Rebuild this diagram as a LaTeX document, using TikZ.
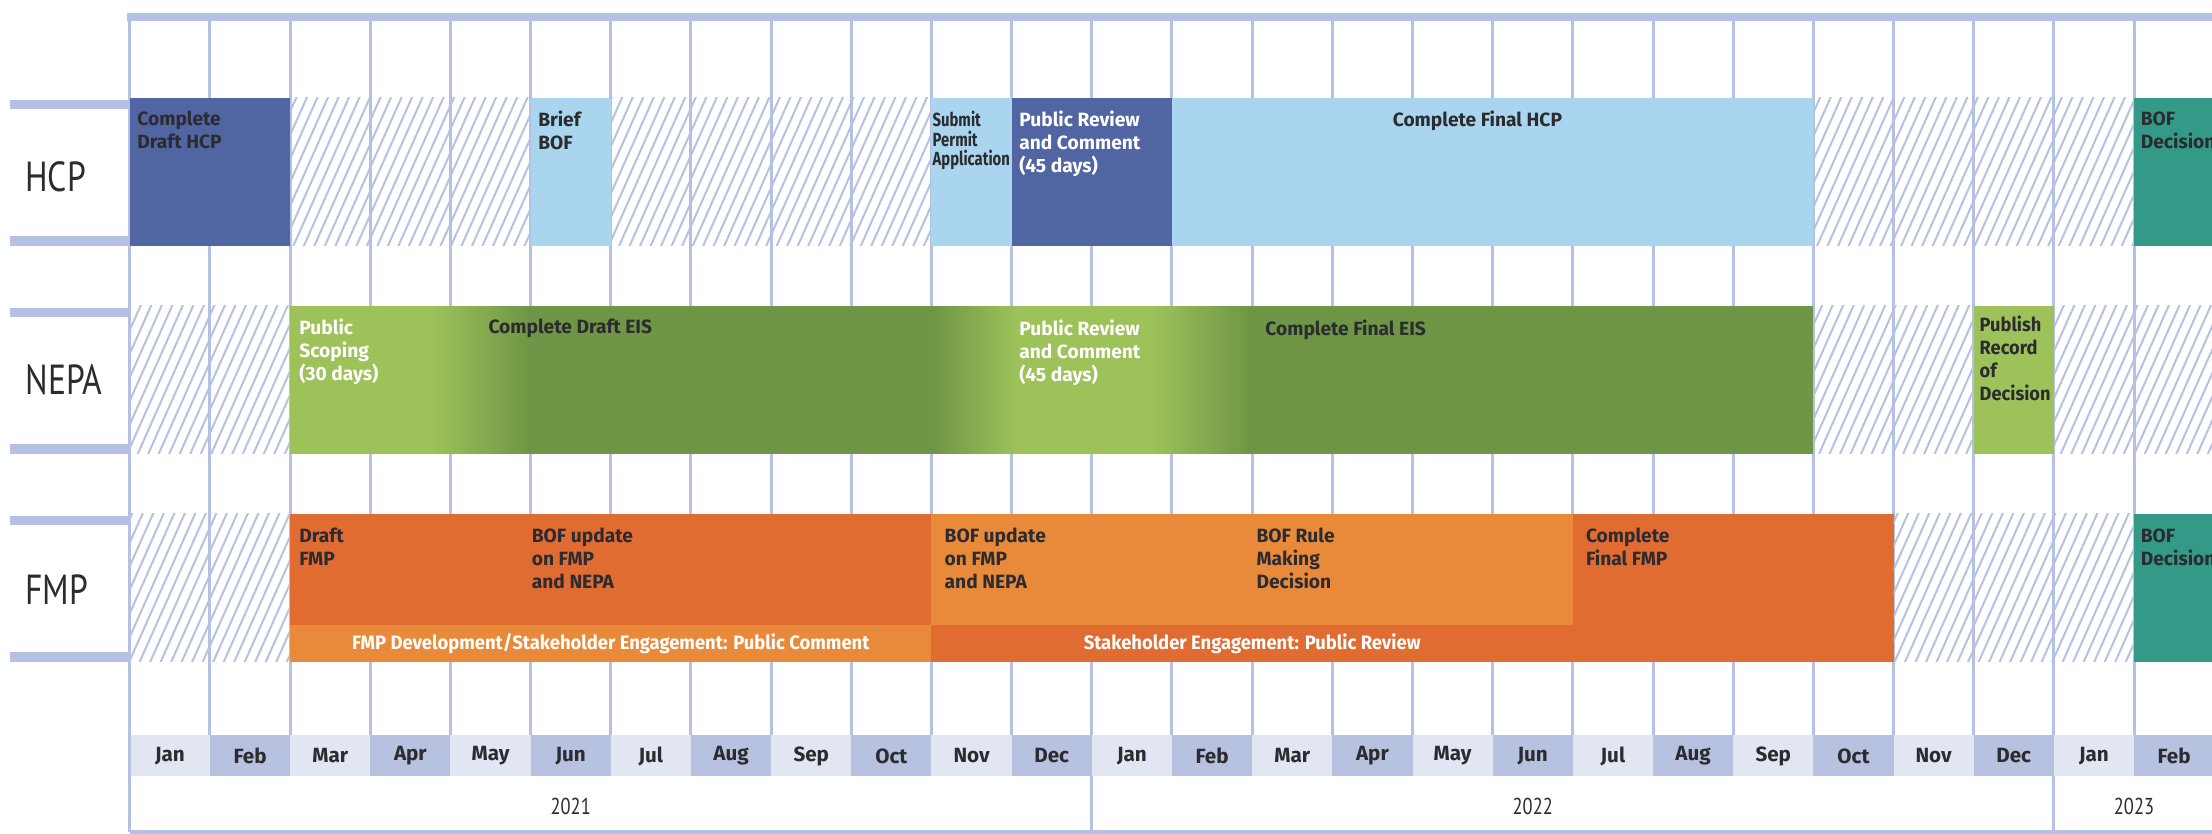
\documentclass[tikz,border=0pt]{standalone}
\usepackage{fontspec}
\setmainfont{PT Sans}
\newfontfamily\lblfont{Fira Sans}
\newfontfamily\bandfont{Fira Sans}[FakeStretch=0.95]
\newfontfamily\narrowfont{Fira Sans}[FakeStretch=0.78]
\newfontfamily\rowfont{PT Sans}[FakeStretch=0.8]
\usetikzlibrary{patterns.meta}

\definecolor{gridc}{HTML}{B5C1E3}
\definecolor{monlight}{HTML}{E2E5F2}
\definecolor{mondark}{HTML}{B7C2E1}
\definecolor{txtdark}{HTML}{2B2B30}
\definecolor{hcpdark}{HTML}{5265A3}
\definecolor{hcplight}{HTML}{A9D6EE}
\definecolor{bofteal}{HTML}{349A88}
\definecolor{greenlight}{HTML}{9EC25A}
\definecolor{greendark}{HTML}{6F9646}
\definecolor{orangedark}{HTML}{E06C32}
\definecolor{orangelight}{HTML}{E88A3A}

\begin{document}
\begin{tikzpicture}[x=40.085pt,y=-0.5pt,
  gridline/.style={draw=gridc,line width=1.5pt},
  hatch/.style={pattern={Lines[angle=66,distance=4.8pt,line width=1pt]},pattern color=gridc},
  bartxt/.style={anchor=north west,inner sep=0pt,align=left,text=txtdark,
    font=\lblfont\bfseries\fontsize{9.6}{11.5}\selectfont},
  wtxt/.style={bartxt,text=white},
  bandtxt/.style={inner sep=0pt,text=white,font=\bandfont\bfseries\fontsize{9.7}{11.5}\selectfont},
  rowlbl/.style={anchor=west,inner sep=0pt,text=txtdark,font=\rowfont\fontsize{21}{21}\selectfont},
  monlbl/.style={inner sep=0pt,text=txtdark,font=\lblfont\bfseries\fontsize{10.3}{10}\selectfont},
  yrlbl/.style={inner sep=0pt,text=txtdark,font=\rowfont\fontsize{11.5}{12}\selectfont}]
\useasboundingbox (-1.619,0) rectangle (25.973,834);

% grid
\fill[gridc] (-0.03,13) rectangle (26,21);
\foreach \k in {1,...,26}
  \draw[gridline] (\k,21) -- (\k,735);
\draw[gridline] (0,21) -- (0,832);
\foreach \t/\b in {98/246,306/454,514/662} {
  \fill[gridc] (-1.494,\t+2) rectangle (0,\t+11);
  \fill[gridc] (-1.494,\b-10) rectangle (0,\b);
}

% row labels
\node[rowlbl] (lblhcp) at (-1.307,177) {HCP};
\node[rowlbl] (lblnepa) at (-1.307,380) {NEPA};
\node[rowlbl] (lblfmp) at (-1.307,590) {FMP};

% HCP
\fill[hcpdark] (0,98) rectangle (2,246);
\fill[hatch] (2,98) rectangle (5,246);
\fill[hcplight] (5,98) rectangle (6,246);
\fill[hatch] (6,98) rectangle (10,246);
\fill[hcplight] (10,98) rectangle (11,246);
\fill[hcpdark] (11,98) rectangle (13,246);
\fill[hcplight] (13,98) rectangle (21,246);
\fill[hatch] (21,98) rectangle (25,246);
\fill[bofteal] (25,98) rectangle (26,246);
\node[bartxt] (hcpdraft) at (0.09,111) {Complete\\Draft HCP};
\node[bartxt] (hcpbrief) at (5.09,111) {Brief\\BOF};
\node[bartxt,font=\narrowfont\bfseries\fontsize{9.5}{9.75}\selectfont] (hcpsubmit) at (10.01,111) {Submit\\Permit\\Application};
\node[wtxt] (hcpreview) at (11.09,111) {Public Review\\and Comment\\(45 days)};
\node[bartxt] (hcpfinal) at (15.75,111) {Complete Final HCP};
\node[bartxt] (hcpdecide) at (25.08,111) {BOF\\Decision};

% NEPA
\fill[hatch] (0,306) rectangle (2,454);
\fill[greendark] (2,306) rectangle (21,454);
\fill[greenlight] (2,306) rectangle (3.76,454);
\fill[greenlight] (11.1,306) rectangle (12.73,454);
\foreach \a/\b/\ca/\cb in {3.75/5/greenlight/greendark,10/11.1/greendark/greenlight,12.72/14/greenlight/greendark}
  \foreach \j in {0,...,24} {
    \pgfmathsetmacro\pct{100*\j/24}
    \fill[\cb!\pct!\ca] ({\a+(\b-\a)*\j/25},306) rectangle ({\a+(\b-\a)*(\j+1)/25+0.01},454);
  }
\fill[hatch] (21,306) rectangle (23,454);
\fill[greenlight] (23,306) rectangle (24,454);
\fill[hatch] (24,306) rectangle (26,454);
\node[wtxt] (nepascope) at (2.11,319) {Public\\Scoping\\(30 days)};
\node[bartxt] (nepadraft) at (4.47,319) {Complete Draft EIS};
\node[wtxt] (nepareview) at (11.09,320) {Public Review\\and Comment\\(45 days)};
\node[bartxt] (nepafinal) at (14.16,320) {Complete Final EIS};
\node[bartxt,font=\bandfont\bfseries\fontsize{9.6}{11.5}\selectfont] (neparecord) at (23.07,316) {Publish\\Record\\of\\Decision};

% FMP
\fill[hatch] (0,514) rectangle (2,662);
\fill[orangedark] (2,514) rectangle (10,625);
\fill[orangelight] (2,625) rectangle (10,662);
\fill[orangelight] (10,514) rectangle (18,625);
\fill[orangedark] (10,625) rectangle (22,662);
\fill[orangedark] (18,514) rectangle (22,662);
\fill[hatch] (22,514) rectangle (25,662);
\fill[bofteal] (25,514) rectangle (26,662);
\node[bartxt] (fmpdraft) at (2.11,528) {Draft\\FMP};
\node[bartxt] (fmpupdatea) at (5.01,528) {BOF update\\on FMP\\and NEPA};
\node[bartxt] (fmpupdateb) at (10.16,528) {BOF update\\on FMP\\and NEPA};
\node[bartxt] (fmprule) at (14.05,528) {BOF Rule\\Making\\Decision};
\node[bartxt] (fmpfinal) at (18.16,528) {Complete\\Final FMP};
\node[bartxt] (fmpdecide) at (25.08,528) {BOF\\Decision};
\node[bandtxt] (fmpcomment) at (6,643.5) {FMP Development/Stakeholder Engagement: Public Comment};
\node[bandtxt] (fmppublic) at (14,643.5) {Stakeholder Engagement: Public Review};

% months and years
\foreach \m [count=\i from 0] in {Jan,Feb,Mar,Apr,May,Jun,Jul,Aug,Sep,Oct,Nov,Dec,Jan,Feb,Mar,Apr,May,Jun,Jul,Aug,Sep,Oct,Nov,Dec,Jan,Feb} {
  \ifodd\i \def\mcol{mondark}\else \def\mcol{monlight}\fi
  \fill[\mcol] (\i,735) rectangle (\i+1,776);
  \node[monlbl] (m\i) at (\i+0.5,756) {\m};
}
\draw[gridline] (0,735) -- (0,832);
\draw[gridline] (12,776) -- (12,832);
\draw[gridline] (24,776) -- (24,832);
\draw[draw=gridc,line width=2pt] (0,832) -- (26,832);
\node[yrlbl] (yr2021) at (5.5,806) {2021};
\node[yrlbl] (yr2022) at (17.5,806) {2022};
\node[yrlbl] (yr2023) at (25,806) {2023};
\end{tikzpicture}
\end{document}
